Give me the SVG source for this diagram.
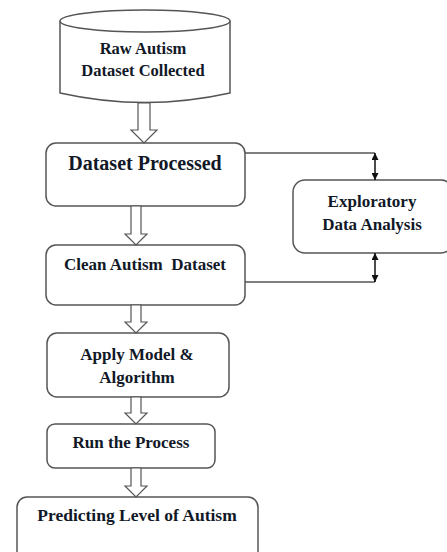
<svg xmlns="http://www.w3.org/2000/svg" width="447" height="552" viewBox="0 0 447 552">
<defs>
<style>
.box{fill:#fff;stroke:#555;stroke-width:1.5}
.t{font-family:"Liberation Serif","Times New Roman",serif;font-weight:bold;fill:#111827;text-anchor:middle;font-size:17px}
.blk{fill:#fff;stroke:#555;stroke-width:1.2}
.ln{fill:none;stroke:#555;stroke-width:1.3}
</style>
<marker id="ah" viewBox="0 0 10 10" refX="10" refY="5" markerWidth="7" markerHeight="7" orient="auto-start-reverse" markerUnits="userSpaceOnUse">
<path d="M0,0 L10,5 L0,10 z" fill="#111"/>
</marker>
</defs>
<rect width="447" height="552" fill="#fff"/>

<g id="raw">
<path class="box" d="M60,21 L60,93 Q145,112 230,93 L230,21"/>
<ellipse class="box" cx="145" cy="21" rx="85" ry="11"/>
<text class="t" x="143" y="54" style="font-size:16.5px">Raw Autism</text>
<text class="t" x="143" y="76" style="font-size:16.5px">Dataset Collected</text>
</g>

<g id="processed">
<rect class="box" x="46" y="143" width="199" height="63" rx="10"/>
<text class="t" x="145" y="170" style="font-size:20px">Dataset Processed</text>
</g>

<g id="clean">
<rect class="box" x="46" y="245" width="199" height="60" rx="10"/>
<text class="t" x="145" y="270" xml:space="preserve">Clean Autism  Dataset</text>
</g>

<g id="eda">
<rect class="box" x="293" y="180" width="160" height="73" rx="12"/>
<text class="t" x="372" y="207">Exploratory</text>
<text class="t" x="372" y="230">Data Analysis</text>
</g>

<g id="apply">
<rect class="box" x="47" y="333" width="182" height="64" rx="10"/>
<text class="t" x="137" y="360">Apply Model &amp;</text>
<text class="t" x="137" y="383">Algorithm</text>
</g>

<g id="run">
<rect class="box" x="47" y="424" width="168" height="44" rx="8"/>
<text class="t" x="131" y="448">Run the Process</text>
</g>

<g id="predict">
<rect class="box" x="17" y="497" width="241" height="70" rx="10"/>
<text class="t" x="137" y="521" style="font-size:17.5px">Predicting Level of Autism</text>
</g>

<g id="connectors">
<path class="blk" d="M138,103 L150,103 L150,130 L157,130 L144,143 L131,130 L138,130 Z"/>
<path class="blk" d="M131,206 L141,206 L141,234 L147,234 L136,245 L125,234 L131,234 Z"/>
<path class="blk" d="M131,305 L141,305 L141,322 L147,322 L136,333 L125,322 L131,322 Z"/>
<path class="blk" d="M131,397 L141,397 L141,413 L147,413 L136,424 L125,413 L131,413 Z"/>
<path class="blk" d="M131,468 L141,468 L141,486 L147,486 L136,497 L125,486 L131,486 Z"/>
<path class="ln" d="M245,153 L375,153"/>
<path class="ln" d="M245,282 L375,282"/>
<line x1="375" y1="153" x2="375" y2="180" stroke="#111" stroke-width="1.5" marker-start="url(#ah)" marker-end="url(#ah)"/>
<line x1="375" y1="253" x2="375" y2="282" stroke="#111" stroke-width="1.5" marker-start="url(#ah)" marker-end="url(#ah)"/>
</g>
</svg>
